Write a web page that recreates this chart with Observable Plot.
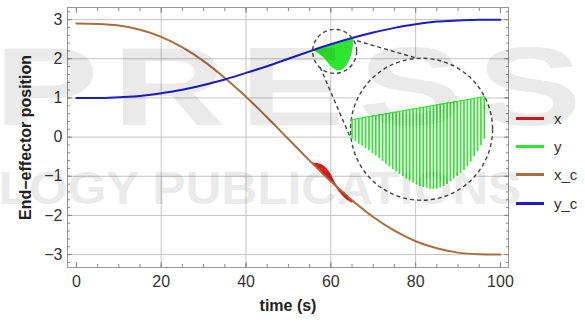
<!DOCTYPE html>
<html><head><meta charset="utf-8">
<script src="https://cdn.jsdelivr.net/npm/d3@7"></script>
<script src="https://cdn.jsdelivr.net/npm/@observablehq/plot@0.6"></script>
<style>
body{margin:0;background:#fff;font-family:"Liberation Sans",Arial,sans-serif;}
#wrap{position:relative;width:585px;height:322px;overflow:hidden;background:#fff}
#wrap svg{position:absolute;left:0;top:0}
.wm{position:absolute;color:#000;opacity:0.08;font-weight:bold;white-space:nowrap;pointer-events:none;font-family:"Liberation Sans",Arial,sans-serif;transform-origin:0 0}
#legend{position:absolute;left:516px;top:104px;font-size:15px;color:#333}
.row{height:28.3px;display:flex;align-items:center}
.sw{width:28px;height:3px;margin-right:10px}
</style></head><body><div id="wrap"></div>
<script>
// reference trajectories (every 5 s)
const timeS = [0,5,10,15,20,25,30,35,40,45,50,55,60,65,70,75,80,85,90,95,100];
const xcRef = [2.90,2.89,2.85,2.74,2.56,2.29,1.94,1.51,1.03,0.50,-0.05,-0.60,-1.13,-1.61,-2.04,-2.39,-2.66,-2.84,-2.95,-2.99,-3.00];
const ycRef = [1.00,1.00,1.02,1.05,1.12,1.21,1.33,1.47,1.64,1.81,2.00,2.19,2.37,2.53,2.67,2.79,2.88,2.95,2.98,3.00,3.00];
// actual y: oscillating envelope
const yBlobT    = [56.0,58.3,59.9,61.9,63.8,65.0,65.4];
const yBlobLow  = [2.21,2.03,1.82,1.69,1.82,2.12,2.42];
const yBlobHigh = [2.22,2.30,2.36,2.43,2.49,2.53,2.54];
// actual x: oscillating envelope
const xBlobT    = [55.6,56.5,58.3,59.9,61.0,62.0,63.0,64.0,65.0,65.4];
const xBlobLow  = [-0.68,-0.76,-0.97,-1.13,-1.25,-1.40,-1.52,-1.62,-1.68,-1.66];
const xBlobHigh = [-0.66,-0.67,-0.73,-0.92,-1.15,-1.30,-1.40,-1.50,-1.60,-1.64];
// magnified inset (drawn in chart coordinates)
const spikeT = [65.0,65.8,66.6,67.4,68.2,69.0,69.8,70.6,71.4,72.2,73.0,73.8,74.6,75.4,76.2,77.0,77.8,78.6,79.4,80.2,81.0,81.8,82.6,83.4,84.2,85.0,85.8,86.6,87.4,88.2,89.0,89.8,90.6,91.4,92.2,93.0,93.8,94.6,95.4,96.2];
const spikeTop = [0.45,0.46,0.48,0.49,0.51,0.52,0.54,0.55,0.57,0.58,0.60,0.61,0.63,0.64,0.66,0.67,0.69,0.70,0.72,0.73,0.75,0.76,0.78,0.79,0.81,0.82,0.84,0.85,0.87,0.88,0.90,0.91,0.93,0.94,0.96,0.97,0.99,1.00,1.02,1.03];
const spikeBottom = [-0.06,-0.12,-0.18,-0.23,-0.29,-0.35,-0.42,-0.48,-0.55,-0.62,-0.69,-0.76,-0.83,-0.89,-0.95,-1.01,-1.07,-1.12,-1.17,-1.22,-1.26,-1.29,-1.31,-1.33,-1.34,-1.33,-1.30,-1.26,-1.21,-1.14,-1.07,-1.00,-0.92,-0.85,-0.75,-0.63,-0.50,-0.37,-0.22,-0.06];
const insetCircleT = [60.9, 81.4];
const insetCircleV = [2.19, 0.20];
const insetCircleR = [22, 71];
const insetLinkT1 = [66.2, 57.5], insetLinkV1 = [2.46, 1.78];
const insetLinkT2 = [82.3, 64.6], insetLinkV2 = [1.95, -0.01];
// axes
const xTicks = [0,20,40,60,80,100];
const xGrid = [20,40,60,80];
const yTicks = [-3,-2,-1,0,1,2,3];
const seriesNames = ["x","y","x_c","y_c"];
const seriesColors = ["#e3161c","#2ee62e","#a86e3e","#1c1cc8"];

const traj = timeS.map((t,i)=>({t, xc:xcRef[i], yc:ycRef[i]}));
const yBlob = yBlobT.map((t,i)=>({t, lo:yBlobLow[i], hi:yBlobHigh[i]}));
const xBlob = xBlobT.map((t,i)=>({t, lo:xBlobLow[i], hi:xBlobHigh[i]}));
const spikes = spikeT.map((t,i)=>({t, top:spikeTop[i], bot:spikeBottom[i]}));
const smallCircle = [{t:insetCircleT[0], v:insetCircleV[0]}];
const bigCircle = [{t:insetCircleT[1], v:insetCircleV[1]}];
const links = insetLinkT1.map((t,i)=>({t1:t, v1:insetLinkV1[i], t2:insetLinkT2[i], v2:insetLinkV2[i]}));
const xMinor = d3.range(0,101,5), yMinor = d3.range(-3.2,3.21,0.2).map(v=>+v.toFixed(1));
const tickStroke = "#888";
const dash = {stroke:"#444", strokeWidth:1.4, strokeDasharray:"4,3"};

const plot = Plot.plot({
  width:585, height:322,
  marginLeft:67, marginRight:77, marginTop:7, marginBottom:55,
  style:{background:"transparent", fontFamily:"Liberation Sans, Arial, sans-serif", fontSize:"16px", color:"#333"},
  x:{domain:[-2.1,101.9], label:null},
  y:{domain:[-3.33,3.31], label:null},
  marks:[
    Plot.gridX(xGrid,{stroke:"#c4c4c4", strokeOpacity:1}),
    Plot.gridY(yTicks,{stroke:"#c4c4c4", strokeOpacity:1}),
    Plot.areaY(yBlob,{x:"t", y1:"lo", y2:"hi", fill:seriesColors[1], curve:"natural"}),
    Plot.areaY(xBlob,{x:"t", y1:"lo", y2:"hi", fill:seriesColors[0], curve:"natural"}),
    Plot.line(traj,{x:"t", y:"xc", stroke:seriesColors[2], strokeWidth:2, curve:"monotone-x"}),
    Plot.line(traj,{x:"t", y:"yc", stroke:seriesColors[3], strokeWidth:2, curve:"monotone-x"}),
    Plot.link(links,{x1:"t1", y1:"v1", x2:"t2", y2:"v2", ...dash}),
    Plot.dot(smallCircle,{x:"t", y:"v", r:insetCircleR[0], fill:"none", ...dash}),
    Plot.dot(bigCircle,{x:"t", y:"v", r:insetCircleR[1], fill:"white", ...dash}),
    Plot.ruleX(spikes,{x:"t", y1:"bot", y2:"top", stroke:seriesColors[1], strokeWidth:1.7}),
    Plot.line(spikes,{x:"t", y:"top", stroke:seriesColors[1], strokeWidth:1}),
    Plot.frame({stroke:"#999"}),
    Plot.axisX(xTicks,{anchor:"bottom", tickSize:0, tickPadding:8, label:null, fill:"#333"}),
    Plot.axisX(xMinor,{anchor:"bottom", tickSize:-3, fill:"none", label:null, stroke:tickStroke}),
    Plot.axisX(xTicks,{anchor:"bottom", tickSize:-5, fill:"none", label:null, stroke:tickStroke}),
    Plot.axisX(xMinor,{anchor:"top", tickSize:-3, fill:"none", label:null, stroke:tickStroke}),
    Plot.axisX(xTicks,{anchor:"top", tickSize:-5, fill:"none", label:null, stroke:tickStroke}),
    Plot.axisY(yTicks,{anchor:"left", tickSize:0, tickPadding:5, label:null, fill:"#333"}),
    Plot.axisY(yMinor,{anchor:"left", tickSize:-3, fill:"none", label:null, stroke:tickStroke}),
    Plot.axisY(yTicks,{anchor:"left", tickSize:-5, fill:"none", label:null, stroke:tickStroke}),
    Plot.axisY(yMinor,{anchor:"right", tickSize:-3, fill:"none", label:null, stroke:tickStroke}),
    Plot.axisY(yTicks,{anchor:"right", tickSize:-5, fill:"none", label:null, stroke:tickStroke}),
    Plot.text(["time (s)"],{frameAnchor:"bottom", dy:43, fontWeight:"bold", fontSize:16, fill:"#222"}),
    Plot.text(["End\u2212effector position"],{frameAnchor:"left", textAnchor:"middle", dx:-42, rotate:-90, fontWeight:"bold", fontSize:16, fill:"#222"})
  ]
});
const wrap = document.getElementById("wrap");
wrap.appendChild(plot);

const legend = d3.select(wrap).append("div").attr("id","legend");
seriesNames.forEach((n,i)=>{
  const row = legend.append("div").attr("class","row");
  row.append("div").attr("class","sw").style("background", seriesColors[i]);
  row.append("span").text(n);
});
// watermark overlay
d3.select(wrap).append("div").attr("class","wm")
  .style("left","-6px").style("top","22px").style("font-size","112px").style("letter-spacing","10px")
  .style("transform","scaleX(1.4)").text("PRESS");
d3.select(wrap).append("div").attr("class","wm")
  .style("left","-40px").style("top","161px").style("font-size","46px").style("letter-spacing","0px")
  .style("transform","scaleX(1.08)").text("OLOGY PUBLICATIONS");
</script>
</body></html>
